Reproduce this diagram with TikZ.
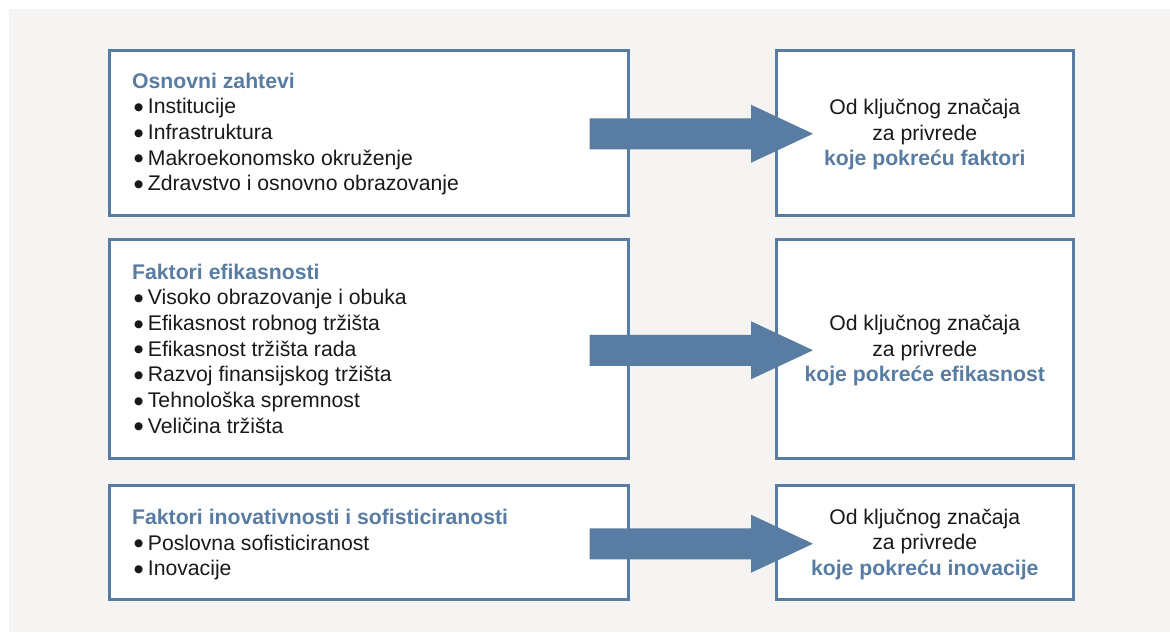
\documentclass[tikz,border=0pt]{standalone}
\usepackage{fontspec}
\setmainfont{Liberation Sans}
\newfontfamily\dejavu{DejaVu Sans}
\usetikzlibrary{calc}
\definecolor{bluec}{HTML}{597CA2}
\definecolor{bgc}{HTML}{F5F4F2}
\newcommand\bul{\hspace{2pt}\raisebox{3.3pt}{\dejavu\fontsize{10.5}{10.5}\selectfont ●}\hspace{4.5pt}}
\newcommand\ttl[1]{{\color{bluec}\bfseries #1}}
\tikzset{
  box/.style={draw=bluec, line width=2.5pt, fill=white, inner sep=0pt, anchor=north west},
  ltext/.style={anchor=base west, align=left, inner sep=0pt, text=black!90, font=\fontsize{21.2}{25.7}\selectfont},
  rtext/.style={anchor=base, align=center, inner sep=0pt, text=black!90, font=\fontsize{21.2}{25.7}\selectfont},
  bigarrow/.style={fill=bluec, to path={
    ($(\tikztostart)+(0,-15.5)$) -- ($(\tikztotarget)+(-62,-15.5)$) -- ($(\tikztotarget)+(-62,-29)$)
    -- (\tikztotarget) -- ($(\tikztotarget)+(-62,29)$) -- ($(\tikztotarget)+(-62,15.5)$)
    -- ($(\tikztostart)+(0,15.5)$) -- cycle}}
}
\begin{document}
\begin{tikzpicture}[x=1pt,y=-1pt]
\useasboundingbox (0,0) rectangle (1170,632);
\fill[white] (0,0) rectangle (1170,632);
\fill[bgc] (9,9) rectangle (1170,632);
% left boxes
\node[box, minimum width=519, minimum height=165] (L1) at (108,49) {};
\node[box, minimum width=519, minimum height=219] (L2) at (108,238) {};
\node[box, minimum width=519, minimum height=114] (L3) at (108,484) {};
% right boxes
\node[box, minimum width=297, minimum height=165] (R1) at (775,49) {};
\node[box, minimum width=297, minimum height=219] (R2) at (775,238) {};
\node[box, minimum width=297, minimum height=114] (R3) at (775,484) {};
% left texts (anchored at the baseline of their last line)
\node[ltext] (T1) at ($(L1.north west)+(24,141.8)$) {\ttl{Osnovni zahtevi}\\
  \bul Institucije\\ \bul Infrastruktura\\ \bul Makroekonomsko okruženje\\ \bul Zdravstvo i osnovno obrazovanje};
\node[ltext] (T2) at ($(L2.north west)+(24,195.2)$) {\ttl{Faktori efikasnosti}\\
  \bul Visoko obrazovanje i obuka\\ \bul Efikasnost robnog tržišta\\ \bul Efikasnost tržišta rada\\
  \bul Razvoj finansijskog tržišta\\ \bul Tehnološka spremnost\\ \bul Veličina tržišta};
\node[ltext] (T3) at ($(L3.north west)+(24,91.9)$) {\ttl{Faktori inovativnosti i sofisticiranosti}\\
  \bul Poslovna sofisticiranost\\ \bul Inovacije};
% right texts
\node[rtext] (U1) at ($(R1.center)+(0,33.2)$) {Od ključnog značaja\\ za privrede\\ \ttl{koje pokreću faktori}};
\node[rtext] (U2) at ($(R2.center)+(0,33.2)$) {Od ključnog značaja\\ za privrede\\ \ttl{koje pokreće efikasnost}};
\node[rtext] (U3) at ($(R3.center)+(0,33.2)$) {Od ključnog značaja\\ za privrede\\ \ttl{koje pokreću inovacije}};
% arrows
\coordinate (s1) at ($(L1.east)+(-40,1)$);  \coordinate (e1) at ($(R1.west)+(38,1)$);
\coordinate (s2) at ($(L2.east)+(-40,1.5)$); \coordinate (e2) at ($(R2.west)+(38,1.5)$);
\coordinate (s3) at ($(L3.east)+(-40,1.5)$); \coordinate (e3) at ($(R3.west)+(38,1.5)$);
\path[bigarrow] (s1) to (e1);
\path[bigarrow] (s2) to (e2);
\path[bigarrow] (s3) to (e3);
\end{tikzpicture}
\end{document}
